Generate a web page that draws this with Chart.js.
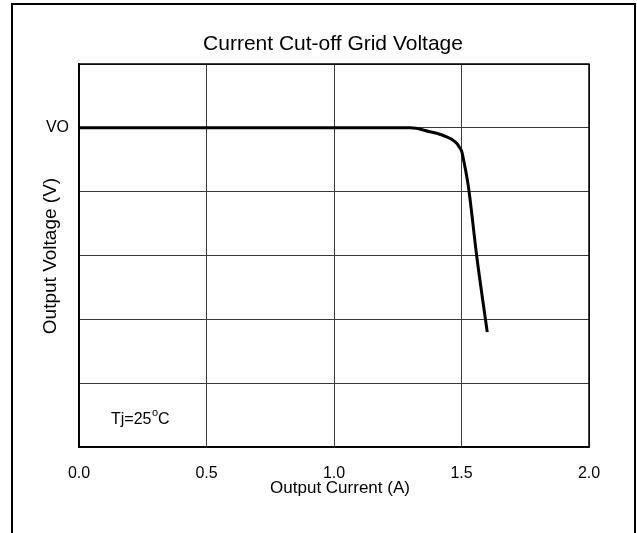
<!DOCTYPE html>
<html>
<head>
<meta charset="utf-8">
<script src="https://cdn.jsdelivr.net/npm/chart.js@4.4.1/dist/chart.umd.min.js"></script>
<style>
html,body{margin:0;padding:0;background:#fff;}
canvas{display:block;}
</style>
</head>
<body>
<canvas id="c" width="637" height="533"></canvas>
<script>
// ---- data ----
const chartTitle = 'Current Cut-off Grid Voltage';
const xAxisTitle = 'Output Current (A)';
const yAxisTitle = 'Output Voltage (V)';
const noteText = 'Tj=25';
const current = [0, 0.5, 1.0, 1.3, 1.376, 1.403, 1.442, 1.462, 1.481, 1.491, 1.501, 1.507, 1.527, 1.56, 1.601];
const voltage = [5, 5, 5, 5, 4.94, 4.915, 4.86, 4.82, 4.76, 4.70, 4.63, 4.52, 4.08, 2.98, 1.80];
const xTicks = [0, 0.5, 1.0, 1.5, 2.0];
const yTickLabels = ['', '', '', '', '', 'VO', ''];

const FONT = '"Liberation Sans", Arial, sans-serif';

const decor = {
  id: 'decor',
  afterDraw(chart) {
    const ctx = chart.ctx;
    const a = chart.chartArea;
    ctx.save();
    // plot frame
    ctx.strokeStyle = '#000';
    ctx.lineWidth = 1.5;
    ctx.strokeRect(a.left, a.top, a.right - a.left, a.bottom - a.top);
    // outer frame
    ctx.lineWidth = 2;
    ctx.strokeRect(12, 4, 623, 560);
    ctx.fillStyle = '#000';
    // title
    ctx.font = '21px ' + FONT;
    ctx.textAlign = 'center';
    ctx.textBaseline = 'alphabetic';
    ctx.fillText(chartTitle, 333, 50);
    // x title
    ctx.font = '17px ' + FONT;
    ctx.fillText(xAxisTitle, 340, 493);
    // y title
    ctx.save();
    ctx.translate(56, 256);
    ctx.rotate(-Math.PI / 2);
    ctx.font = '19px ' + FONT;
    ctx.fillText(yAxisTitle, 0, 0);
    ctx.restore();
    // note Tj=25°C
    ctx.textAlign = 'left';
    ctx.font = '16px ' + FONT;
    let x = 111;
    ctx.fillText(noteText, x, 424);
    x += ctx.measureText(noteText).width + 0.5;
    ctx.font = '11px ' + FONT;
    ctx.fillText('o', x, 416);
    x += ctx.measureText('o').width;
    ctx.font = '16px ' + FONT;
    ctx.fillText('C', x, 424);
    ctx.restore();
  }
};

new Chart(document.getElementById('c'), {
  type: 'line',
  data: {
    datasets: [{
      data: current.map((c, i) => ({x: c, y: voltage[i]})),
      borderColor: '#000',
      borderWidth: 3,
      pointRadius: 0,
      fill: false,
      cubicInterpolationMode: 'monotone'
    }]
  },
  options: {
    responsive: false,
    animation: false,
    devicePixelRatio: 1,
    layout: {padding: {left: 0, right: 48, top: 64, bottom: 0}},
    plugins: {legend: {display: false}, title: {display: false}, tooltip: {enabled: false}},
    scales: {
      x: {
        type: 'linear', min: 0, max: 2,
        afterFit(s) { s.height = 86; },
        afterBuildTicks(s) { s.ticks = xTicks.map(v => ({value: v})); },
        grid: {color: '#3a3a3a', lineWidth: 1, drawTicks: false},
        border: {color: '#000', width: 1.5},
        ticks: {
          padding: 17, color: '#000', font: {family: FONT, size: 16},
          callback: v => Number(v).toFixed(1)
        }
      },
      y: {
        type: 'linear', min: 0, max: 6,
        afterFit(s) { s.width = 79; },
        grid: {color: '#3a3a3a', lineWidth: 1, drawTicks: false},
        border: {color: '#000', width: 1.5},
        ticks: {
          stepSize: 1, padding: 10, color: '#000', font: {family: FONT, size: 16},
          callback: v => yTickLabels[v] || ''
        }
      }
    }
  },
  plugins: [decor]
});
</script>
</body>
</html>
